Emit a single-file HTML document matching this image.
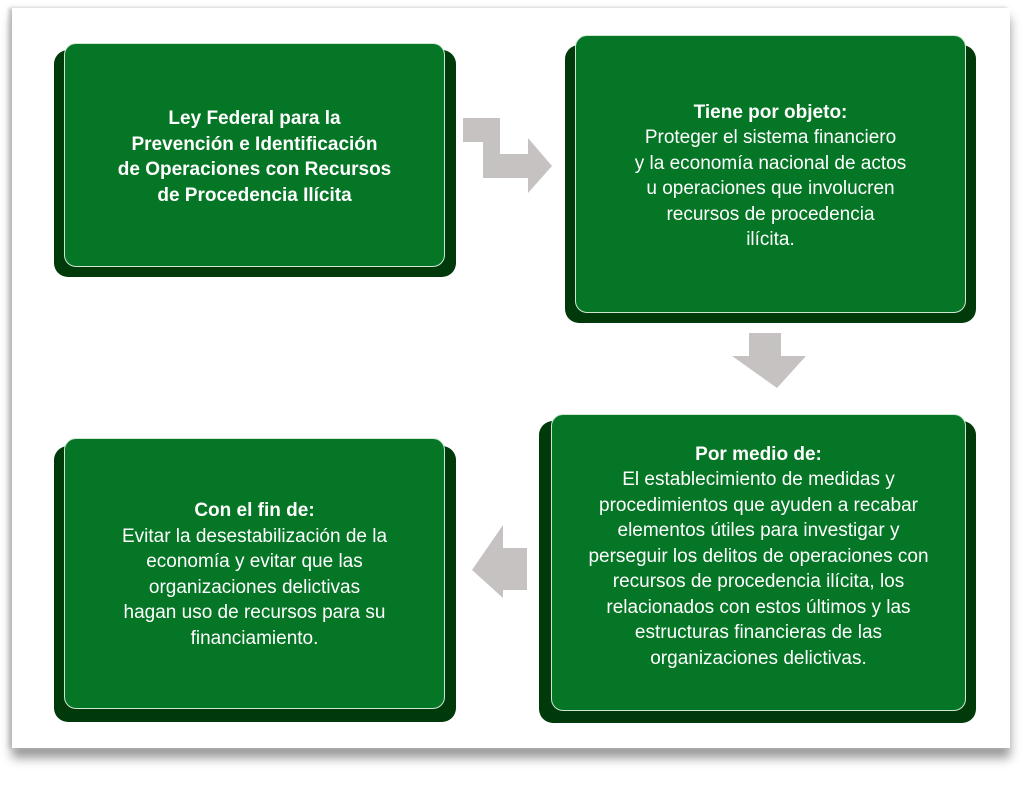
<!DOCTYPE html>
<html><head><meta charset="utf-8"><style>
body{margin:0;width:1024px;height:795px;background:#fff;position:relative;overflow:hidden;font-family:"Liberation Sans",sans-serif}
.panel{position:absolute;left:12px;top:8px;width:998px;height:740px;background:#fff;box-shadow:-3px 0 4px #bbb,0 10px 10px #999}
.b{position:absolute;background:#003a0a;border-radius:14px}
.f{position:absolute;background:#057625;border-radius:12px;border:1.5px solid #cfe6d2;box-sizing:border-box;color:#fff;display:flex;flex-direction:column;justify-content:center;align-items:center;text-align:center;font-size:19px;line-height:25.5px}
.f b{font-weight:bold}
</style></head><body>
<div class="panel"></div>
<div class="b" style="left:54px;top:50px;width:402px;height:227px"></div>
<div class="f" style="left:64px;top:43px;width:381px;height:224px;padding-top:4px"><b>Ley Federal para la<br>Prevención e Identificación<br>de Operaciones con Recursos<br>de Procedencia Ilícita</b></div>
<div class="b" style="left:565px;top:45px;width:411px;height:278px"></div>
<div class="f" style="left:575px;top:35px;width:391px;height:278px;padding-top:4px"><b>Tiene por objeto:</b>Proteger el sistema financiero<br>y la economía nacional de actos<br>u operaciones que involucren<br>recursos de procedencia<br>ilícita.</div>
<div class="b" style="left:539px;top:421px;width:437px;height:302px"></div>
<div class="f" style="left:551px;top:414px;width:415px;height:297px;padding-bottom:12px"><b>Por medio de:</b>El establecimiento de medidas y<br>procedimientos que ayuden a recabar<br>elementos útiles para investigar y<br>perseguir los delitos de operaciones con<br>recursos de procedencia ilícita, los<br>relacionados con estos últimos y las<br>estructuras financieras de las<br>organizaciones delictivas.</div>
<div class="b" style="left:54px;top:446px;width:402px;height:276px"></div>
<div class="f" style="left:64px;top:438px;width:381px;height:271px;padding-top:2px"><b>Con el fin de:</b>Evitar la desestabilización de la<br>economía y evitar que las<br>organizaciones delictivas<br>hagan uso de recursos para su<br>financiamiento.</div>
<svg width="1024" height="795" style="position:absolute;left:0;top:0">
<g fill="#c6c2c2">
<polygon points="463,118 500,118 500,154 528,154 528,138 552,166 528,193 528,178 483,178 483,142 463,142"/>
<polygon points="749,333 781,333 781,356 806,356 777,388 732,356 749,356"/>
<polygon points="527,548 527,590 503,590 503,598 472,570 503,525 503,548"/>
</g></svg>
</body></html>
